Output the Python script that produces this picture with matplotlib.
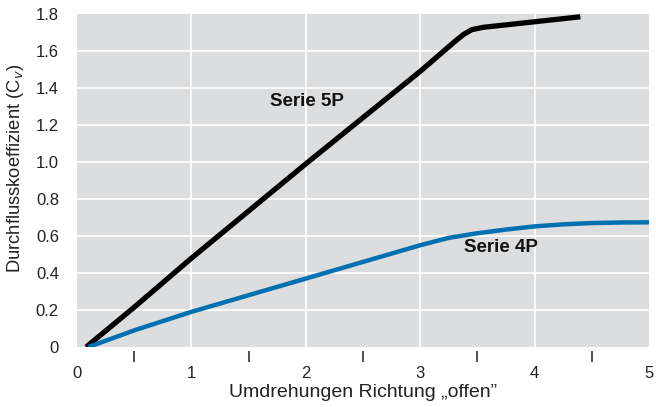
import numpy as np
import matplotlib.pyplot as plt
from matplotlib.ticker import FixedLocator

plt.rcParams['font.family'] = ['Liberation Sans', 'DejaVu Sans']

# Serie 5P (black)
x_5p = [0.08, 0.5, 1.0, 1.5, 2.0, 2.5, 3.0, 3.3, 3.38, 3.45, 3.55, 3.7, 4.0, 4.4]
y_5p = [0.0, 0.215, 0.48, 0.735, 0.99, 1.24, 1.49, 1.65, 1.69, 1.715, 1.728, 1.738, 1.758, 1.785]

# Serie 4P (blue)
x_4p = [0.1, 0.5, 1.0, 1.5, 2.0, 2.5, 3.0, 3.25, 3.5, 3.75, 4.0, 4.25, 4.5, 4.75, 5.0]
y_4p = [0.0, 0.09, 0.19, 0.28, 0.37, 0.46, 0.55, 0.59, 0.615, 0.635, 0.652, 0.663, 0.67, 0.673, 0.674]

x_labels = ['0', '1', '2', '3', '4', '5']
y_labels = ['0', '0.2', '0.4', '0.6', '0.8', '1.0', '1.2', '1.4', '1.6', '1.8']

fig = plt.figure(figsize=(6.56, 4.07), dpi=100)
ax = fig.add_axes([0.1174, 0.1474, 0.8719, 0.8182])
ax.set_facecolor('#dcdddf')

ax.plot(x_5p, y_5p, color='black', lw=3.8, solid_joinstyle='round', solid_capstyle='butt', zorder=3)
ax.plot(x_4p, y_4p, color='#0070b0', lw=3.2, solid_joinstyle='round', solid_capstyle='butt', zorder=3)

ax.set_xlim(0, 5)
ax.set_ylim(0, 1.8)

# grid
for gx in [1, 2, 3, 4]:
    ax.axvline(gx, color='white', lw=1.2, zorder=1)
for gy in np.arange(0.2, 1.7, 0.2):
    ax.axhline(gy, color='white', lw=1.2, zorder=1)

for s in ax.spines.values():
    s.set_visible(False)
ax.spines['bottom'].set_position(('outward', 3))
ax.spines['left'].set_position(('outward', 2))

# x axis: labels on integers, tick marks on half steps
ax.set_xticks(range(6))
ax.set_xticklabels(x_labels)
ax.xaxis.set_minor_locator(FixedLocator(np.arange(0.5, 4.6, 0.5)))
ax.tick_params(axis='x', which='major', length=0, pad=11, labelsize=12, labelcolor='#222222')
ax.tick_params(axis='x', which='minor', length=8, width=1.2, color='#333333', direction='out')

# y axis
ax.set_yticks(np.arange(0, 1.81, 0.2))
ax.set_yticklabels(y_labels)
ax.yaxis.set_minor_locator(FixedLocator(np.arange(0.2, 1.61, 0.2)))
ax.tick_params(axis='y', which='major', length=0, pad=11, labelsize=12, labelcolor='#222222')
ax.tick_params(axis='y', which='minor', length=8, width=1.2, color='#333333', direction='out')

ax.set_xlabel('Umdrehungen Richtung \u201eoffen\u201d', fontsize=14, color='#222222', labelpad=2)
ax.set_ylabel('Durchflusskoeffizient (C$_{\\mathit{v}}$)', fontsize=13.2, color='#222222')
ax.yaxis.set_label_coords(-0.089, 0.537)

ax.text(2.01, 1.325, 'Serie 5P', fontsize=13.5, fontweight='bold', ha='center', va='center', color='#111111')
ax.text(3.71, 0.54, 'Serie 4P', fontsize=13.5, fontweight='bold', ha='center', va='center', color='#111111')

fig.savefig('out.png', dpi=100)
